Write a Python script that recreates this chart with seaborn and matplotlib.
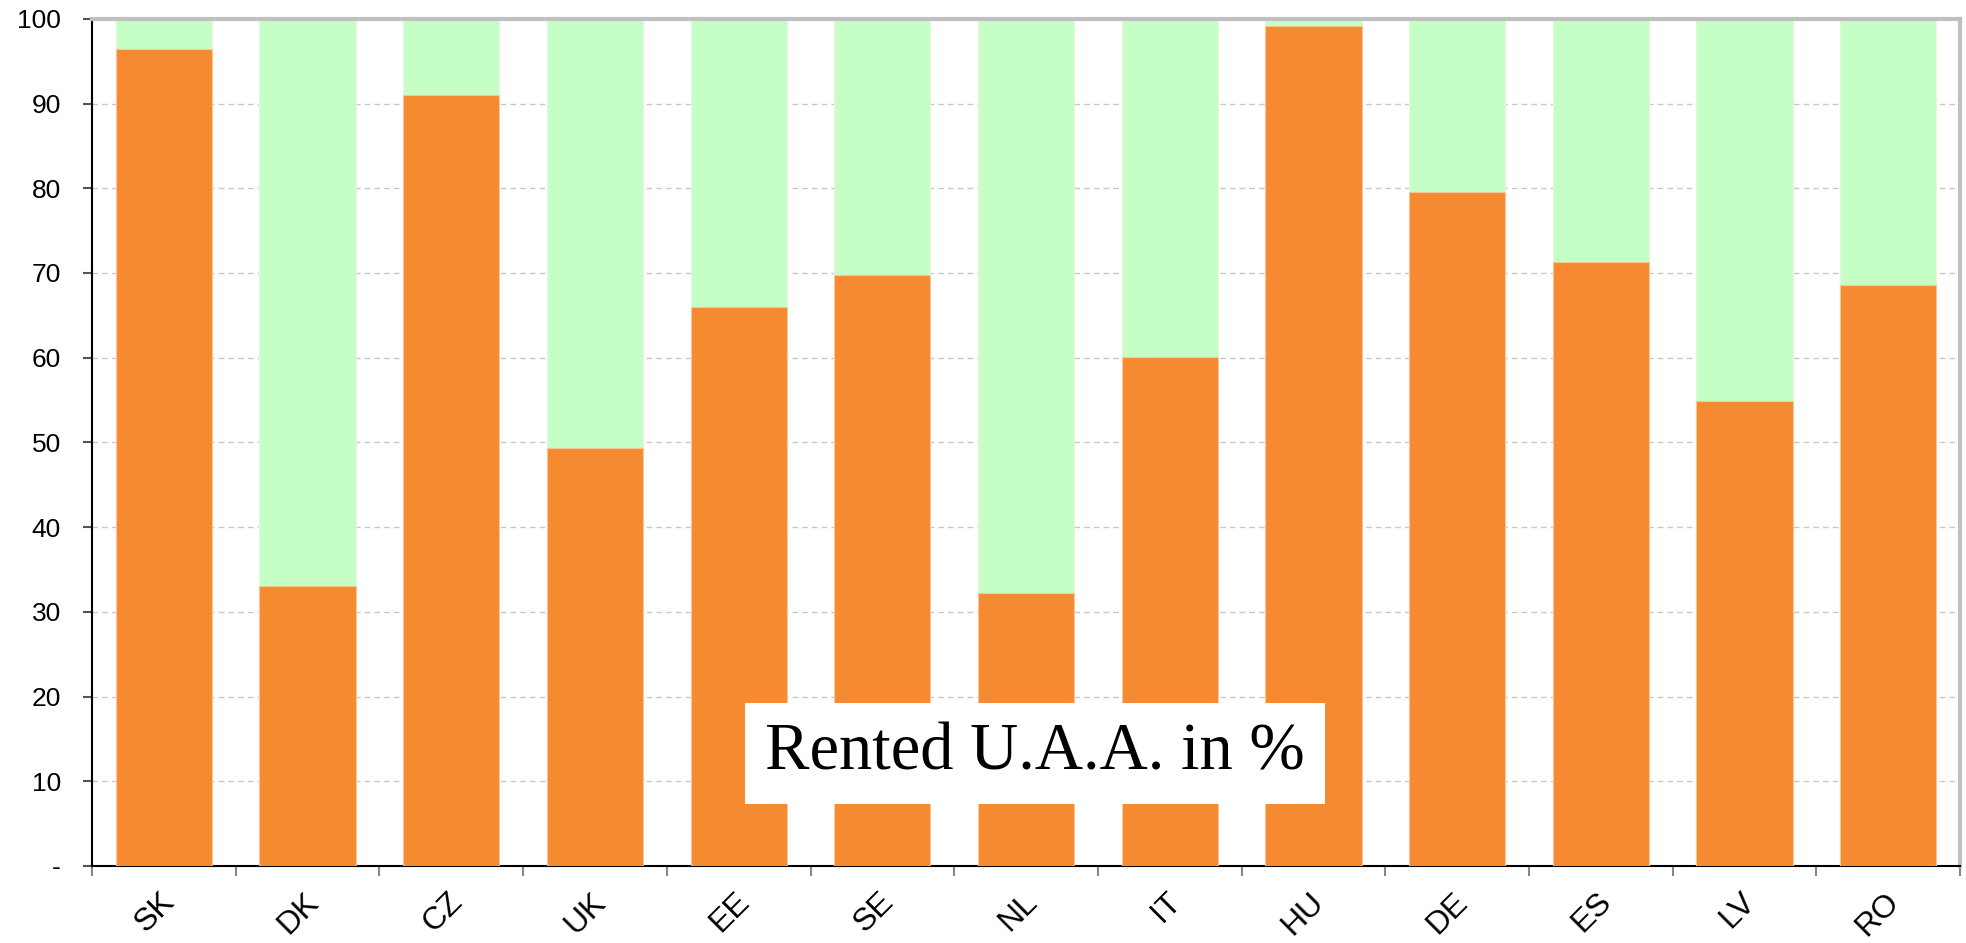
import matplotlib
matplotlib.use("Agg")
import matplotlib.pyplot as plt
import matplotlib.transforms as mtransforms
import seaborn as sns
import pandas as pd
import numpy as np

countries = ["SK", "DK", "CZ", "UK", "EE", "SE", "NL", "IT", "HU", "DE", "ES", "LV", "RO"]
rented = [96.4, 33.1, 91.0, 49.3, 66.0, 69.8, 32.2, 60.1, 99.1, 79.6, 71.3, 54.9, 68.6]
total = [100] * len(countries)
yticks = [0, 10, 20, 30, 40, 50, 60, 70, 80, 90, 100]
ytick_labels = ["-", "10", "20", "30", "40", "50", "60", "70", "80", "90", "100"]

sns.set_theme(style="white")
plt.rcParams['font.family'] = ['Liberation Sans', 'DejaVu Sans']

df = pd.DataFrame({"country": countries, "rented": rented, "total": total})

fig = plt.figure(figsize=(19.66, 9.43), dpi=100)
ax = fig.add_axes([0.0468, 0.0817, 0.9502, 0.8983])

sns.barplot(data=df, x="country", y="total", color="#C6FFC6", width=0.67,
            saturation=1, ax=ax, edgecolor="#EAF5E0", linewidth=0.8, zorder=2)
sns.barplot(data=df, x="country", y="rented", color="#F58A30", width=0.67,
            saturation=1, ax=ax, edgecolor="#F7C79A", linewidth=0.8, zorder=3)

ax.set_xlim(-0.5, len(countries) - 0.5)
ax.set_ylim(0, 100)
ax.set_yticks(yticks)
ax.set_yticklabels(ytick_labels, fontsize=19, color="black")
ax.set_xlabel("")
ax.set_ylabel("")

ax.set_xticks(range(len(countries)))
ax.set_xticklabels(countries, rotation=45, fontsize=23, ha="right", va="top", color="black")
ax.tick_params(axis="x", which="major", length=0, pad=15, bottom=True)
shift = mtransforms.ScaledTranslation(17 / 100, 0, fig.dpi_scale_trans)
for lab in ax.get_xticklabels():
    lab.set_transform(lab.get_transform() + shift)
ax.set_xticks(np.arange(-0.5, len(countries), 1.0), minor=True)
ax.tick_params(axis="x", which="minor", length=7, width=1.5, color="#888888",
               direction="out", bottom=True)
ax.tick_params(axis="y", which="major", length=6.5, width=1.5, color="#555555",
               direction="out", pad=16, left=True)

ax.yaxis.grid(True, linestyle=(0, (4, 3)), color="#C8C8C8", linewidth=1, zorder=0)
ax.set_axisbelow(True)

for s in ["left", "bottom"]:
    ax.spines[s].set_color("black")
    ax.spines[s].set_linewidth(1.5)
for s in ["top", "right"]:
    ax.spines[s].set_color("#C0C0C0")
    ax.spines[s].set_linewidth(3)

ax.text(6.06, 13.3, "Rented U.A.A. in %", family=["Liberation Serif", "DejaVu Serif"],
        fontsize=48, ha="center", va="center", zorder=5, color="black",
        bbox=dict(facecolor="white", edgecolor="none", boxstyle="square,pad=0.3"))

fig.savefig("out.png", dpi=100)
